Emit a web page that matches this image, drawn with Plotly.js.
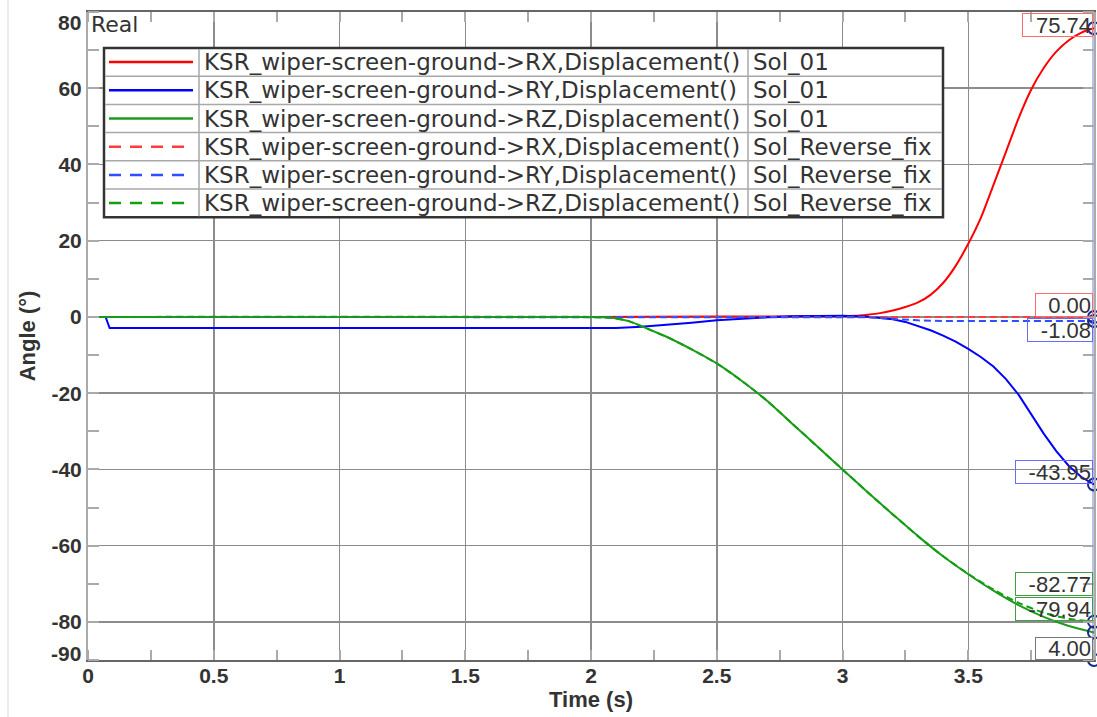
<!DOCTYPE html>
<html>
<head>
<meta charset="utf-8">
<script src="https://cdn.plot.ly/plotly-3.0.1.min.js"></script>
<style>
html,body{margin:0;padding:0;background:#fff;}
#chart{width:1097px;height:717px;}
</style>
</head>
<body>
<div id="chart"></div>
<script>
// ---------------- DATA ----------------
const seriesNames = [
  'KSR_wiper-screen-ground->RX,Displacement()',
  'KSR_wiper-screen-ground->RY,Displacement()',
  'KSR_wiper-screen-ground->RZ,Displacement()',
  'KSR_wiper-screen-ground->RX,Displacement()',
  'KSR_wiper-screen-ground->RY,Displacement()',
  'KSR_wiper-screen-ground->RZ,Displacement()'
];
const solutionNames = ['Sol_01','Sol_01','Sol_01','Sol_Reverse_fix','Sol_Reverse_fix','Sol_Reverse_fix'];

const time_RX_Sol01 = [0, 2.0, 2.5, 3.0, 3.05, 3.1, 3.15, 3.2, 3.25, 3.3, 3.35, 3.4, 3.45, 3.5, 3.55, 3.6, 3.65, 3.7, 3.75, 3.8, 3.85, 3.9, 3.95, 4.0];
const angle_RX_Sol01 = [0, 0, 0.1, 0.2, 0.3, 0.6, 1.0, 1.7, 2.6, 3.8, 5.8, 8.9, 13.4, 19.2, 26.0, 34.6, 43.3, 52.1, 59.6, 65.3, 69.6, 72.6, 74.6, 75.74];

const time_RY_Sol01 = [0, 0.07, 0.086, 2.1, 2.2, 2.3, 2.4, 2.5, 2.6, 2.7, 2.8, 2.9, 3.0, 3.1, 3.15, 3.2, 3.25, 3.3, 3.35, 3.4, 3.45, 3.5, 3.55, 3.6, 3.65, 3.7, 3.75, 3.8, 3.85, 3.9, 3.95, 4.0];
const angle_RY_Sol01 = [0, 0, -2.9, -2.9, -2.6, -2.1, -1.5, -0.9, -0.45, -0.1, 0.15, 0.3, 0.3, 0.05, -0.2, -0.6, -1.3, -2.3, -3.5, -4.9, -6.5, -8.4, -10.5, -13.0, -16.3, -20.4, -25.5, -30.6, -35.2, -39.1, -42.0, -43.95];

const time_RZ_Sol01 = [0, 2.0, 2.05, 2.1, 2.15, 2.2, 2.25, 2.3, 2.4, 2.5, 2.6, 2.7, 2.8, 2.9, 3.0, 3.1, 3.2, 3.3, 3.4, 3.5, 3.6, 3.7, 3.8, 3.9, 4.0];
const angle_RZ_Sol01 = [0, 0, -0.1, -0.4, -1.1, -2.4, -3.8, -5.2, -8.5, -12.2, -16.8, -22.0, -28.0, -34.0, -40.0, -46.0, -51.8, -57.5, -62.8, -67.5, -71.8, -75.6, -78.7, -81.1, -82.77];

const time_RX_Fix = [0, 4.0];
const angle_RX_Fix = [0, 0.00];

const time_RY_Fix = [0, 3.05, 3.1, 3.15, 3.2, 3.25, 3.3, 3.4, 4.0];
const angle_RY_Fix = [0, 0, -0.1, -0.3, -0.5, -0.75, -0.9, -1.05, -1.08];

const time_RZ_Fix = [0, 2.0, 2.05, 2.1, 2.15, 2.2, 2.25, 2.3, 2.4, 2.5, 2.6, 2.7, 2.8, 2.9, 3.0, 3.1, 3.2, 3.3, 3.4, 3.5, 3.6, 3.7, 3.8, 3.9, 4.0];
const angle_RZ_Fix = [0, 0, -0.1, -0.4, -1.1, -2.4, -3.8, -5.2, -8.5, -12.2, -16.8, -22.0, -28.0, -34.0, -40.0, -46.0, -51.8, -57.5, -62.8, -67.4, -71.5, -75.0, -77.6, -79.2, -79.94];

const cursorTime = 4.00;
const xRange = [0, 4];
const yRange = [-90, 80];
const xTickVals = [0, 0.5, 1, 1.5, 2, 2.5, 3, 3.5, 4];
const xTickText = ['0', '0.5', '1', '1.5', '2', '2.5', '3', '3.5', '4'];
const yTickVals = [80, 60, 40, 20, 0, -20, -40, -60, -80, -90];
const yTickText = ['80', '60', '40', '20', '0', '-20', '-40', '-60', '-80', '-90'];

// ---------------- STYLE ----------------
const seriesX = [time_RX_Sol01, time_RY_Sol01, time_RZ_Sol01, time_RX_Fix, time_RY_Fix, time_RZ_Fix];
const seriesY = [angle_RX_Sol01, angle_RY_Sol01, angle_RZ_Sol01, angle_RX_Fix, angle_RY_Fix, angle_RZ_Fix];
const lineColors = ['#ff0000', '#0000ff', '#1f9a1f', '#ff3b3b', '#2f4fff', '#10a010'];
const lineDash = ['solid', 'solid', 'solid', '7px,4px', '7px,4px', '7px,4px'];
const lineShape = ['spline', 'linear', 'spline', 'linear', 'linear', 'spline'];
const legendDash = ['solid', 'solid', 'solid', '12px,9px', '12px,9px', '12px,9px'];
const boxColors = ['#ff6a6a', '#6a6aff', '#3ea03e', '#ff6a6a', '#6a6aff', '#3ea03e'];
const labelShift = [3, 12, 48, 12, -8.5, 12.7];

const W = 1097, H = 717, ML = 88, MR = 3, MT = 12, MB = 57;
const PW = W - ML - MR, PH = H - MT - MB;
const X = px => (px - ML) / PW;
const Y = py => (H - MB - py) / PH;

const FAM = 'Liberation Sans, Arial, sans-serif';
const tickFont = {family: FAM, size: 21, color: '#333', weight: 'bold'};
const labFont = {family: FAM, size: 22, color: '#333'};
const legFont = {family: 'DejaVu Sans, sans-serif', size: 23, color: '#333'};

const cv = document.createElement('canvas').getContext('2d');
cv.font = '22px "Liberation Sans", Arial, sans-serif';
const boxW = s => Math.ceil(cv.measureText(s).width) + 11;

const traces = [];
for (let i = 0; i < seriesX.length; i++) {
  traces.push({
    type: 'scatter', mode: 'lines', x: seriesX[i], y: seriesY[i],
    name: seriesNames[i] + ' ' + solutionNames[i],
    line: {color: lineColors[i], width: 2, dash: lineDash[i], shape: lineShape[i], smoothing: 0.7},
    showlegend: false, hoverinfo: 'skip'
  });
}
const finals = seriesY.map(a => a[a.length - 1]);
traces.push({
  type: 'scatter', mode: 'markers',
  x: finals.map(() => cursorTime).concat([cursorTime]),
  y: finals.concat([yRange[0]]),
  marker: {symbol: 'circle-open', size: 12, color: '#1c2a85', line: {width: 2, color: '#1c2a85'}},
  cliponaxis: false, showlegend: false, hoverinfo: 'skip'
});

const annotations = [];
const shapes = [];

// value labels at cursor
finals.forEach((v, i) => {
  const s = v.toFixed(2);
  annotations.push({
    xref: 'x', yref: 'y', x: cursorTime, y: v, xanchor: 'right', yanchor: 'middle',
    xshift: -1, yshift: labelShift[i], showarrow: false, align: 'right',
    text: s, font: labFont, bgcolor: 'rgba(255,255,255,0)',
    bordercolor: boxColors[i], borderwidth: 1, borderpad: 1, height: 20, width: boxW(s)
  });
});
const cs = cursorTime.toFixed(2);
annotations.push({
  xref: 'x', yref: 'y', x: cursorTime, y: yRange[0], xanchor: 'right', yanchor: 'middle',
  xshift: -1, yshift: 12, showarrow: false, align: 'right',
  text: cs, font: labFont, bgcolor: '#fff',
  bordercolor: '#777', borderwidth: 1, borderpad: 1, height: 19, width: boxW(cs)
});

// edge y tick labels (80 at top and -90 at bottom sit inside the frame edge)
const edgeShift = {'80': -10, '-90': 7};
const innerVals = [], innerText = [];
yTickVals.forEach((v, i) => {
  if (edgeShift[yTickText[i]] !== undefined) {
    annotations.push({xref: 'paper', yref: 'y', x: 0, y: v, xanchor: 'right', yanchor: 'middle',
      xshift: -5, yshift: edgeShift[yTickText[i]], showarrow: false, text: yTickText[i], font: tickFont});
  } else { innerVals.push(v); innerText.push(yTickText[i]); }
});

// "Real"
annotations.push({xref: 'paper', yref: 'paper', x: X(89), y: Y(25), xanchor: 'left', yanchor: 'middle',
  showarrow: false, text: 'Real', font: {family: 'DejaVu Sans, sans-serif', size: 22, color: '#333'}});

// legend table
const LG = {left: 104, right: 943, top: 48, rowH: 28.2, c1: 199, c2: 748};
const nRows = seriesNames.length;
shapes.push({type: 'rect', xref: 'paper', yref: 'paper', layer: 'above',
  x0: X(LG.left), x1: X(LG.right), y0: Y(LG.top), y1: Y(LG.top + nRows * LG.rowH),
  fillcolor: '#fff', line: {color: '#333', width: 2.5}});
for (let r = 1; r < nRows; r++) {
  shapes.push({type: 'line', xref: 'paper', yref: 'paper', layer: 'above',
    x0: X(LG.left + 1), x1: X(LG.right - 1), y0: Y(LG.top + r * LG.rowH), y1: Y(LG.top + r * LG.rowH),
    line: {color: '#a8a8a8', width: 1.5}});
}
[LG.c1, LG.c2].forEach(c => shapes.push({type: 'line', xref: 'paper', yref: 'paper', layer: 'above',
  x0: X(c), x1: X(c), y0: Y(LG.top + 1), y1: Y(LG.top + nRows * LG.rowH - 1),
  line: {color: '#a8a8a8', width: 1.5}}));
for (let r = 0; r < nRows; r++) {
  const cy = LG.top + (r + 0.5) * LG.rowH;
  shapes.push({type: 'line', xref: 'paper', yref: 'paper', layer: 'above',
    x0: X(109), x1: X(193), y0: Y(cy), y1: Y(cy),
    line: {color: lineColors[r], width: 2.5, dash: legendDash[r]}});
  annotations.push({xref: 'paper', yref: 'paper', x: X(LG.c1 + 3), y: Y(cy), xanchor: 'left', yanchor: 'middle',
    showarrow: false, text: seriesNames[r], font: legFont});
  annotations.push({xref: 'paper', yref: 'paper', x: X(LG.c2 + 3), y: Y(cy), xanchor: 'left', yanchor: 'middle',
    showarrow: false, text: solutionNames[r], font: legFont});
}

// cursor band at right
shapes.push({type: 'line', xref: 'x', yref: 'paper', layer: 'below', x0: cursorTime, x1: cursorTime, y0: 0, y1: 1,
  line: {color: '#b9c3e6', width: 4}});
// faint frame line at far left
shapes.push({type: 'line', xref: 'paper', yref: 'paper', layer: 'below', x0: X(8), x1: X(8), y0: Y(0), y1: Y(717),
  line: {color: '#ececec', width: 2}});

const layout = {
  width: W, height: H,
  margin: {l: ML, r: MR, t: MT, b: MB, pad: 0},
  paper_bgcolor: '#fff', plot_bgcolor: '#fff',
  showlegend: false,
  xaxis: {
    range: xRange, tickmode: 'array', tickvals: xTickVals, ticktext: xTickText,
    showgrid: true, gridcolor: '#8c8c8c', gridwidth: 1.5, zeroline: false,
    showline: true, linecolor: '#666', linewidth: 2, mirror: 'allticks',
    ticks: '', tickfont: tickFont, ticklabelstandoff: -4,
    minor: {tickmode: 'linear', tick0: 0, dtick: 0.25, ticks: 'inside', ticklen: 10, tickwidth: 2, tickcolor: '#aaa', showgrid: false},
    title: {text: 'Time (s)', font: {family: FAM, size: 22, color: '#333', weight: 'bold'}, standoff: 2}
  },
  yaxis: {
    range: yRange, tickmode: 'array', tickvals: innerVals, ticktext: innerText,
    showgrid: true, gridcolor: '#8c8c8c', gridwidth: 1.5, zeroline: false,
    showline: true, linecolor: '#aaa', linewidth: 2, mirror: 'allticks',
    ticks: '', tickfont: tickFont,
    minor: {tickmode: 'linear', tick0: 0, dtick: 10, ticks: 'inside', ticklen: 11, tickwidth: 2, tickcolor: '#aaa', showgrid: false},
    title: {text: 'Angle (°)', font: {family: FAM, size: 22, color: '#333', weight: 'bold'}, standoff: 10}
  },
  annotations: annotations,
  shapes: shapes
};

Plotly.newPlot('chart', traces, layout, {staticPlot: true, displayModeBar: false});
</script>
</body>
</html>
